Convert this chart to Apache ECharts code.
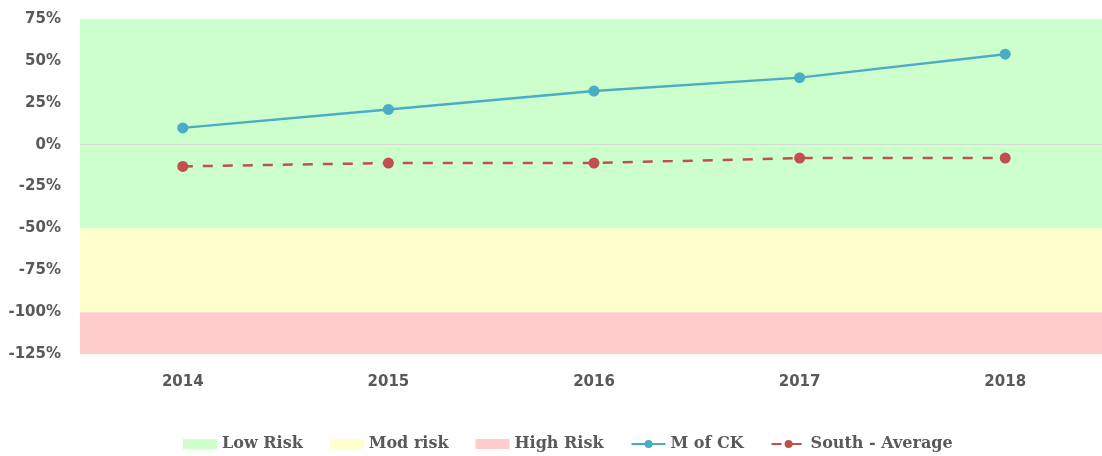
<!DOCTYPE html>
<html><head><meta charset="utf-8">
<script src="https://cdn.jsdelivr.net/npm/echarts@6/dist/echarts.min.js"></script>
<style>html,body{margin:0;padding:0;background:#fff;overflow:hidden}#c{width:1108px;height:456px}</style>
</head><body><div id="c"></div>
<script>
const categories = ['2014', '2015', '2016', '2017', '2018'];
const mOfCK = [10, 21, 32, 40, 54];
const southAverage = [-13, -11, -11, -8, -8];
const lowRiskBand = [-50, 75];
const modRiskBand = [-100, -50];
const highRiskBand = [-125, -100];
const yTicks = [75, 50, 25, 0, -25, -50, -75, -100, -125];

const chart = echarts.init(document.getElementById('c'));
const legendFont = {fontFamily: 'DejaVu Serif', fontWeight: 'bold', fontSize: 16, color: '#595959'};
const axisFont = {fontFamily: 'DejaVu Sans', fontWeight: 'bold', fontSize: 15, color: '#595959'};
function band(name, range, color) {
  return {
    name: name, type: 'line', data: [], itemStyle: {color: color}, lineStyle: {color: color},
    silent: true, z: 1,
    markArea: {silent: true, itemStyle: {color: color, opacity: 1},
      data: [[{yAxis: range[1]}, {yAxis: range[0]}]]}
  };
}
chart.setOption({
  animation: false,
  grid: {left: 80, right: 0, top: 19, bottom: 102},
  legend: {
    top: 431, left: 178, itemGap: 27, itemWidth: 34, itemHeight: 10,
    textStyle: legendFont,
    data: [
      {name: 'Low Risk', icon: 'rect'},
      {name: 'Mod risk', icon: 'rect'},
      {name: 'High Risk', icon: 'rect'},
      {name: 'M of CK'},
      {name: 'South - Average'}
    ]
  },
  xAxis: {
    type: 'category', data: categories, boundaryGap: true,
    axisLine: {show: false}, axisTick: {show: false},
    axisLabel: Object.assign({margin: 21}, axisFont)
  },
  yAxis: {
    type: 'value', min: -125, max: 75, interval: 25,
    splitLine: {show: false}, axisLine: {show: false}, axisTick: {show: false},
    axisLabel: Object.assign({margin: 19,
      formatter: v => yTicks.includes(v) ? v + '%' : ''}, axisFont)
  },
  series: [
    band('Low Risk', lowRiskBand, '#CCFFCC'),
    band('Mod risk', modRiskBand, '#FFFFCC'),
    band('High Risk', highRiskBand, '#FFCCCC'),
    {
      name: 'M of CK', type: 'line', data: mOfCK, z: 5,
      symbol: 'circle', symbolSize: 11,
      itemStyle: {color: '#4BACC6'}, lineStyle: {color: '#4BACC6', width: 2.5},
      markLine: {silent: true, symbol: 'none', label: {show: false},
        lineStyle: {color: '#D9D9D9', type: 'solid', width: 1},
        data: [{yAxis: 0}]}
    },
    {
      name: 'South - Average', type: 'line', data: southAverage, z: 5,
      symbol: 'circle', symbolSize: 11,
      itemStyle: {color: '#C0504D'}, lineStyle: {color: '#C0504D', width: 2.5, type: [10, 10]}
    }
  ]
});
</script></body></html>
